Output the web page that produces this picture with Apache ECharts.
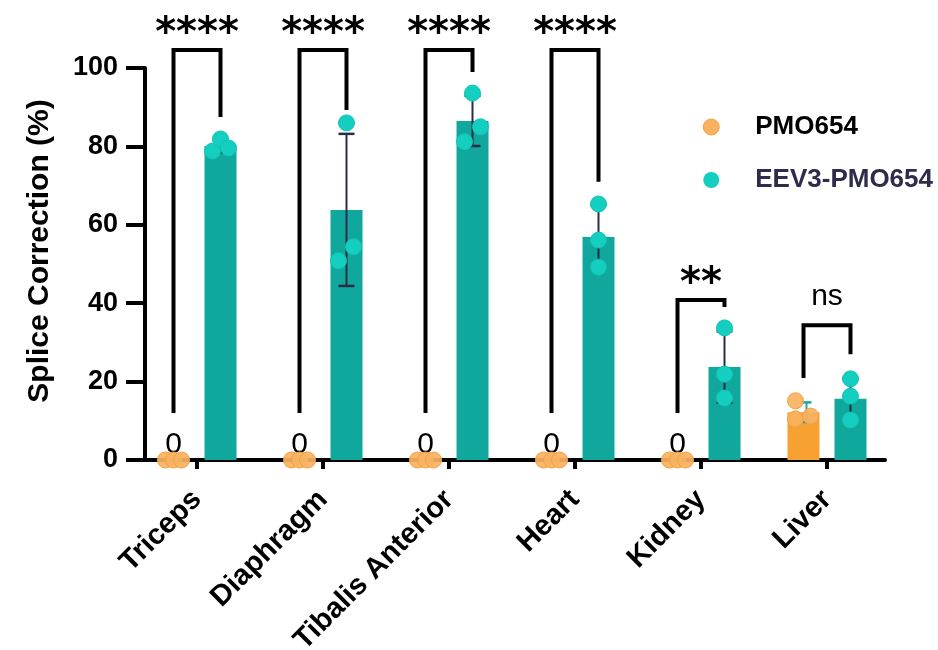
<!DOCTYPE html>
<html><head><meta charset="utf-8">
<script src="https://cdn.jsdelivr.net/npm/echarts@6/dist/echarts.min.js"></script>
<style>html,body{margin:0;padding:0;background:#fff}#c{width:938px;height:650px}</style>
</head><body><div id="c"></div>
<script>
// ---- data ----
const categories = ['Triceps','Diaphragm','Tibalis Anterior','Heart','Kidney','Liver'];
const seriesNames = ['PMO654','EEV3-PMO654'];
const pmoMean = [0,0,0,0,0,12.2];
const eevMean = [80.1,63.8,86.5,56.9,23.7,15.6];
const pmoSD = [0,0,0,0,0,2.5];
const eevSD = [1.6,19.4,6.4,8.1,9.1,5.3];
const pmoPoints = [[0,0,0],[0,0,0],[0,0,0],[0,0,0],[0,0,0],[15.1,10.5,11.2]];
const eevPoints = [[78.8,81.9,79.6],[50.8,86.0,54.4],[81.2,93.6,85.0],[49.2,65.3,56.1],[15.8,33.7,21.9],[10.2,20.7,16.3]];
const sigLabels = ['****','****','****','****','**','ns'];
const bracketTop = [104.6,104.6,104.6,104.6,40.8,34.4];
const bracketLeftEnd = [12,12,12,12,12,20.9];
const bracketRightEnd = [87.5,89.3,99,71,39,27];
const yMin = 0, yMax = 100, yStep = 20;

// ---- layout / style ----
const OFF = 23.5; // px offset of each group's bar from category centre
const pmoJitter = [[-8,0,8],[-8,0,8],[-8,0,8],[-8,0,8],[-8,0,8],[-8,-8,7]];
const eevJitter = [[-8,0,8],[-8,0,7],[-8,0,8],[0,0,0],[0,0,0],[0,0,0]];
const C = {
  orangeBar:'#f7a133', tealBar:'#10a89d',
  orangeDot:'rgba(249,178,98,0.92)', orangeDotStroke:'#f3a23c',
  tealDot:'#14cfc0', tealDotStroke:'#12c4b6',
  err:'#2b2d48', errOrange:'#19a99b'
};
const FONT = '"Liberation Sans", Arial, sans-serif';

function dotSeries(name, points, jit, offset, fill, stroke) {
  const data = [];
  points.forEach((arr, c) => arr.forEach((v, k) => data.push([c, v, k])));
  return {
    type:'custom', name, data, z:4, clip:false, silent:true,
    encode:{x:0, y:1},
    renderItem(params, api) {
      const c = api.value(0), v = api.value(1), k = api.value(2);
      const p = api.coord([c, v]);
      return { type:'circle', shape:{cx:p[0]+offset+jit[c][k], cy:p[1], r:8},
               style:{fill, stroke, lineWidth:1} };
    }
  };
}
function errSeries(means, sds, offset, color, capW) {
  return {
    type:'custom', data: means.map((m,i)=>[i, m, sds[i]]), z:3, silent:true, clip:false,
    encode:{x:0, y:1},
    renderItem(params, api) {
      const c = api.value(0), m = api.value(1), s = api.value(2);
      if (!s) return;
      const hi = api.coord([c, m+s]), lo = api.coord([c, m-s]);
      const x = hi[0] + offset;
      const st = {stroke:color, lineWidth:2};
      return { type:'group', children:[
        {type:'line', shape:{x1:x, y1:hi[1], x2:x, y2:lo[1]}, style:st},
        {type:'line', shape:{x1:x-capW/2, y1:hi[1], x2:x+capW/2, y2:hi[1]}, style:{stroke:color, lineWidth:2.5}},
        {type:'line', shape:{x1:x-capW/2, y1:lo[1], x2:x+capW/2, y2:lo[1]}, style:{stroke:color, lineWidth:2.5}}
      ]};
    }
  };
}

const chart = echarts.init(document.getElementById('c'), null, {renderer:'canvas'});
chart.setOption({
  animation:false,
  backgroundColor:'#fff',
  grid:[
    {left:134, right:48, top:68, bottom:190, outerBoundsMode:'none', containLabel:false},
    {left:145, right:53, top:68, bottom:190, outerBoundsMode:'none', containLabel:false}
  ],
  legend:{
    orient:'vertical', right:5, top:114, padding:0, itemWidth:78, itemHeight:16, itemGap:27,
    selectedMode:false,
    textStyle:{fontFamily:FONT, fontWeight:'bold', fontSize:26},
    data:[
      {name:seriesNames[0], icon:'circle', itemStyle:{color:'#f8b163', borderColor:'#f3a640', borderWidth:1}, textStyle:{color:'#000'}},
      {name:seriesNames[1], icon:'circle', itemStyle:{color:C.tealDot, borderWidth:0}, textStyle:{color:'#2e2c4a'}}
    ]
  },
  xAxis:[
    {type:'category', gridIndex:0, data:categories, boundaryGap:true,
     axisLine:{show:false},
     axisTick:{show:true, alignWithLabel:true, length:9, lineStyle:{color:'#000', width:4}},
     axisLabel:{rotate:45, margin:35, color:'#000', fontFamily:FONT, fontWeight:'bold', fontSize:29, interval:0},
     splitLine:{show:false}},
    {type:'value', gridIndex:1, min:0, max:1,
     axisLine:{show:true, onZero:false, lineStyle:{color:'#000', width:4}},
     axisTick:{show:false}, axisLabel:{show:false}, splitLine:{show:false}}
  ],
  yAxis:[
    {type:'value', gridIndex:0, min:yMin, max:yMax, interval:yStep, offset:-11,
     name:'Splice Correction (%)', nameLocation:'middle', nameGap:90,
     nameTextStyle:{fontFamily:FONT, fontWeight:'bold', fontSize:30, color:'#000', padding:[0,0,0,26]},
     axisLine:{show:true, lineStyle:{color:'#000', width:4}},
     axisTick:{show:true, length:19, lineStyle:{color:'#000', width:4}},
     axisLabel:{margin:27, color:'#000', fontFamily:FONT, fontWeight:'bold', fontSize:27},
     splitLine:{show:false}},
    {type:'value', gridIndex:1, min:0, max:1, show:false}
  ],
  series:[
    {type:'bar', name:seriesNames[0], data:pmoMean, barWidth:32, barGap:'47%', z:2,
     itemStyle:{color:C.orangeBar},
     label:{show:true, position:'top', distance:0, color:'#000', fontFamily:FONT, fontSize:30,
            formatter:p => p.value === 0 ? '0' : ''}},
    {type:'bar', name:seriesNames[1], data:eevMean, barWidth:32, barGap:'47%', z:2,
     itemStyle:{color:C.tealBar}},
    errSeries(pmoMean, pmoSD, -OFF+3, C.errOrange, 10),
    errSeries(eevMean, eevSD, OFF, C.err, 16),
    dotSeries(seriesNames[0], pmoPoints, pmoJitter, -OFF, C.orangeDot, C.orangeDotStroke),
    dotSeries(seriesNames[1], eevPoints, eevJitter, OFF, C.tealDot, C.tealDotStroke),
    {type:'custom', z:5, silent:true, clip:false,
     data: categories.map((_, i) => [i, bracketTop[i], bracketLeftEnd[i], bracketRightEnd[i]]),
     encode:{x:0, y:1},
     renderItem(params, api) {
       const i = api.value(0);
       const t = api.coord([i, api.value(1)]);
       const l = api.coord([i, api.value(2)]);
       const r = api.coord([i, api.value(3)]);
       const xl = t[0]-OFF, xr = t[0]+OFF;
       const lab = sigLabels[params.dataIndex];
       const isStar = lab.indexOf('*') >= 0;
       return {type:'group', children:[
         {type:'polyline', shape:{points:[[xl,l[1]],[xl,t[1]],[xr,t[1]],[xr,r[1]]]},
          style:{stroke:'#000', lineWidth:4, fill:'none', lineJoin:'miter'}},
         {type:'text', x:t[0], y:t[1]-(isStar?15:28),
          style:{text:lab, font: isStar ? 'bold 40px "DejaVu Sans"' : '30px "Liberation Sans"',
                 fill:'#000', align:'center', verticalAlign:'middle'}}
       ]};
     }}
  ]
});
</script></body></html>
